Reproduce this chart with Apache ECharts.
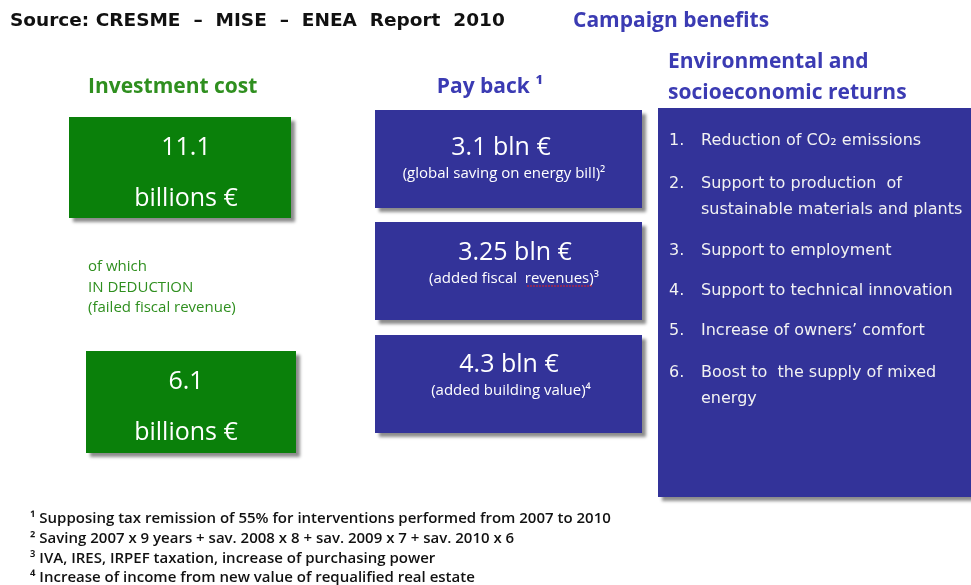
<!DOCTYPE html>
<html>
<head>
<meta charset="utf-8">
<script src="https://cdn.jsdelivr.net/npm/echarts@6/dist/echarts.min.js"></script>
<style>
  html, body { margin: 0; padding: 0; background: #fff; }
  #chart { width: 971px; height: 585px; }
</style>
</head>
<body>
<div id="chart"></div>
<script>
const investValues = [11.1, 6.1]
const investUnit = 'billions €'
const deductionNote = ['of which', 'IN DEDUCTION', '(failed fiscal revenue)']
const paybackValues = [3.1, 3.25, 4.3]
const paybackNotes = ['(global saving on energy bill)²', '(added fiscal  revenues)³', '(added building value)⁴']
const returnsList = [
  ['Reduction of CO₂ emissions'],
  ['Support to production  of', 'sustainable materials and plants'],
  ['Support to employment'],
  ['Support to technical innovation'],
  ['Increase of owners’ comfort'],
  ['Boost to  the supply of mixed', 'energy']
]
const footnotes = [
  '¹ Supposing tax remission of 55% for interventions performed from 2007 to 2010',
  '² Saving 2007 x 9 years + sav. 2008 x 8 + sav. 2009 x 7 + sav. 2010 x 6',
  '³ IVA, IRES, IRPEF taxation, increase of purchasing power',
  '⁴ Increase of income from new value of requalified real estate'
]

const GREEN = '#0a800a'
const GREEN_TXT = '#2f8f1f'
const BLUE = '#333399'
const BLUE_TXT = '#3b3bb3'
const SHADOW = { shadowBlur: 3, shadowOffsetX: 4, shadowOffsetY: 4, shadowColor: 'rgba(0,0,0,0.45)' }
const BOX_FONT = '"Open Sans", Lato, sans-serif'
const HEAD_FONT = 'bold 21px "Open Sans", Lato, sans-serif'

const chart = echarts.init(document.getElementById('chart'))
const elements = []

const text = (x, y, str, style) => {
  elements.push({
    type: 'text', x: x, y: y,
    style: Object.assign({ text: str, verticalAlign: 'middle' }, style)
  })
}

// headers
text(10, 21, 'Source: CRESME  –  MISE  –  ENEA  Report  2010',
  { fill: '#111', font: 'bold 18.5px "DejaVu Sans", Verdana, sans-serif' })
text(573, 21, 'Campaign benefits', { fill: BLUE_TXT, font: HEAD_FONT })
text(88, 87, 'Investment cost', { fill: GREEN_TXT, font: HEAD_FONT })
text(490, 87, 'Pay back ¹', { fill: BLUE_TXT, font: HEAD_FONT, align: 'center' })
text(668, 62, 'Environmental and', { fill: BLUE_TXT, font: HEAD_FONT })
text(668, 93, 'socioeconomic returns', { fill: BLUE_TXT, font: HEAD_FONT })

// investment boxes
const investBoxes = [
  { x: 69, y: 117, w: 222, h: 101 },
  { x: 86, y: 351, w: 210, h: 102 }
]
investValues.forEach((v, i) => {
  const b = investBoxes[i]
  elements.push({ type: 'rect', shape: { x: b.x, y: b.y, width: b.w, height: b.h },
    style: Object.assign({ fill: GREEN }, SHADOW) })
  text(186, b.y + 31, String(v), { fill: '#fff', font: '25px ' + BOX_FONT, align: 'center' })
  text(186, b.y + 82, investUnit, { fill: '#fff', font: '25px ' + BOX_FONT, align: 'center' })
})
deductionNote.forEach((s, i) => {
  text(88, 267 + i * 20.5, s, { fill: GREEN_TXT, font: '15px ' + BOX_FONT })
})

// payback boxes
const payTops = [110, 222, 335]
const payMainDy = [38, 31, 30]
const payNoteDy = [64, 57, 56]
const payMainX = [501, 515, 509]
const payNoteX = [504, 514, 511]
paybackValues.forEach((v, i) => {
  const y = payTops[i]
  elements.push({ type: 'rect', shape: { x: 375, y: y, width: 267, height: 98 },
    style: Object.assign({ fill: BLUE }, SHADOW) })
  text(payMainX[i], y + payMainDy[i], v + ' bln €', { fill: '#fff', font: '25px ' + BOX_FONT, align: 'center' })
  text(payNoteX[i], y + payNoteDy[i], paybackNotes[i], { fill: '#fff', font: '15px ' + BOX_FONT, align: 'center' })
})
// spell-check squiggle under "revenues"
elements.push({ type: 'line', shape: { x1: 527, y1: 286, x2: 592, y2: 286 },
  style: { stroke: '#e02020', lineWidth: 1.2, lineDash: [2, 1] } })

// returns panel
elements.push({ type: 'rect', shape: { x: 658, y: 108, width: 320, height: 389 },
  style: Object.assign({ fill: BLUE }, SHADOW) })
const itemTops = [141, 184, 251, 291, 331, 373]
const LIST_FONT = '16px "DejaVu Sans", Verdana, sans-serif'
returnsList.forEach((lines, i) => {
  text(669, itemTops[i], (i + 1) + '.', { fill: '#f2f2f2', font: LIST_FONT })
  lines.forEach((s, j) => {
    text(701, itemTops[i] + j * 25.5, s, { fill: '#f2f2f2', font: LIST_FONT })
  })
})

// footnotes
footnotes.forEach((s, i) => {
  text(30, 519 + i * 19.7, s, { fill: '#111', font: '600 15px ' + BOX_FONT })
})

chart.setOption({
  backgroundColor: '#fff',
  animation: false,
  graphic: { elements: elements }
})
</script>
</body>
</html>
